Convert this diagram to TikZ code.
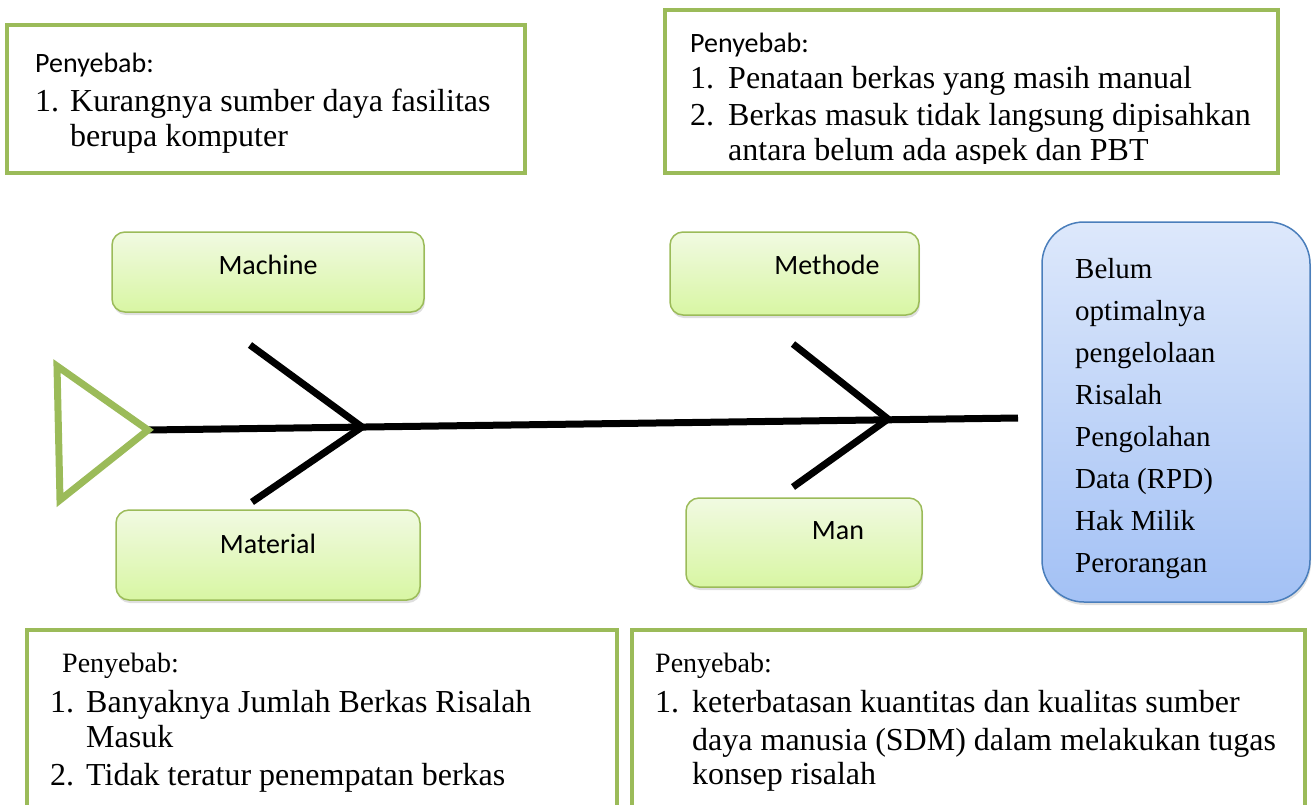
\documentclass[tikz,border=0pt]{standalone}
\usepackage{fontspec}
\setmainfont{LiberationSerif}[Extension=.ttf, UprightFont=*-Regular, BoldFont=*-Bold, ItalicFont=*-Italic]
\newfontfamily\calfont{Carlito}
\usetikzlibrary{shadows}
\definecolor{grn}{HTML}{9BBB59}
\definecolor{lgtop}{HTML}{F1FAE2}
\definecolor{lgbot}{HTML}{D8F6A3}
\definecolor{lbtop}{HTML}{DDE8FB}
\definecolor{lbbot}{HTML}{A3C1F5}
\definecolor{bbord}{HTML}{4A7EBB}
\tikzset{
  causebox/.style={draw=grn, line width=4pt, fill=white},
  catbox/.style={draw=grn, line width=1.5pt, rounded corners=13pt, top color=lgtop, bottom color=lgbot,
     drop shadow={opacity=0.25, shadow xshift=1pt, shadow yshift=-3pt}},
  cattext/.style={font=\calfont\fontsize{28}{32}\selectfont, inner sep=0pt, anchor=center},
  head/.style={font=\calfont\fontsize{28}{32}\selectfont, inner sep=0pt, anchor=base west},
  headser/.style={font=\rmfamily\fontsize{28}{32}\selectfont, inner sep=0pt, anchor=base west},
  item/.style={font=\rmfamily\fontsize{32}{36}\selectfont, inner sep=0pt, anchor=base west},
  effect/.style={font=\rmfamily\fontsize{29}{33}\selectfont, inner sep=0pt, anchor=base west},
  bone/.style={line width=7pt, black},
}
\begin{document}
\begin{tikzpicture}[x=1pt,y=-1pt]
\useasboundingbox (0,0) rectangle (1314,804);
% top-left cause box
\draw[causebox] (7,25) rectangle (525,173);
\node[head] (tlh) at (35,72) {Penyebab:};
\node[item] (tl1n) at (35,111) {1.};
\node[item] (tl1) at (70,111) {Kurangnya sumber daya fasilitas};
\node[item] (tl1b) at (70,146) {berupa komputer};
% top-right cause box
\draw[causebox] (665,10) rectangle (1278,173);
\begin{scope}
\clip (667,12) rectangle (1276,163);
\node[head] (trh) at (690,52) {Penyebab:};
\node[item] (tr1n) at (690,88) {1.};
\node[item] (tr1) at (728,88) {Penataan berkas yang masih manual};
\node[item] (tr2n) at (690,125) {2.};
\node[item] (tr2) at (728,125) {Berkas masuk tidak langsung dipisahkan};
\node[item] (tr2b) at (728,160) {antara belum ada aspek dan PBT};
\end{scope}
% category boxes
\draw[catbox] (112,232) rectangle (424,312);
\node[cattext] (machine) at (268,265) {Machine};
\draw[catbox] (116,510) rectangle (420,600);
\node[cattext] (material) at (268,544) {Material};
\draw[catbox] (670,232) rectangle (919,315);
\node[cattext] (methode) at (827,265) {Methode};
\draw[catbox] (686,498) rectangle (922,587);
\node[cattext] (man) at (838,531) {Man};
% effect box
\draw[draw=bbord, line width=1.5pt, rounded corners=42pt, top color=lbtop, bottom color=lbbot,
   drop shadow={opacity=0.25, shadow xshift=1pt, shadow yshift=-3pt}] (1042,222) rectangle (1310,602);
\node[effect] (e1) at (1075,278) {Belum};
\node[effect] (e2) at (1075,320) {optimalnya};
\node[effect] (e3) at (1075,362) {pengelolaan};
\node[effect] (e4) at (1075,404) {Risalah};
\node[effect] (e5) at (1075,446) {Pengolahan};
\node[effect] (e6) at (1075,488) {Data (RPD)};
\node[effect] (e7) at (1075,530) {Hak Milik};
\node[effect] (e8) at (1075,572) {Perorangan};
% fishbone
\coordinate (tail) at (148,430);
\coordinate (spineend) at (1018,418);
\coordinate (j1) at (362,427);
\coordinate (j2) at (888,419);
\coordinate (b1) at (250,345);
\coordinate (b2) at (252,502);
\coordinate (b3) at (793,344);
\coordinate (b4) at (793,487);
\draw[bone] (tail) -- (spineend);
\draw[bone, line join=miter] (b1) -- (j1) -- (b2);
\draw[bone, line join=miter] (b3) -- (j2) -- (b4);
\coordinate (t1) at (57,366);
\coordinate (t3) at (60,500);
\draw[grn, line width=7pt] (t1) -- (tail) -- (t3) -- cycle;
% bottom cause boxes
\draw[causebox] (27,630) rectangle (617,830);
\node[headser] (blh) at (62,672) {Penyebab:};
\node[item] (bl1n) at (50,712) {1.};
\node[item] (bl1) at (86,712) {Banyaknya Jumlah Berkas Risalah};
\node[item] (bl1b) at (86,747) {Masuk};
\node[item] (bl2n) at (50,785) {2.};
\node[item] (bl2) at (86,785) {Tidak teratur penempatan berkas};
\draw[causebox] (632,630) rectangle (1305,830);
\node[headser] (brh) at (655,672) {Penyebab:};
\node[item] (br1n) at (655,712) {1.};
\node[item] (br1) at (692,712) {keterbatasan kuantitas dan kualitas sumber};
\node[item] (br1b) at (692,750) {daya manusia (SDM) dalam melakukan tugas};
\node[item] (br1c) at (692,784) {konsep risalah};
\end{tikzpicture}
\end{document}
